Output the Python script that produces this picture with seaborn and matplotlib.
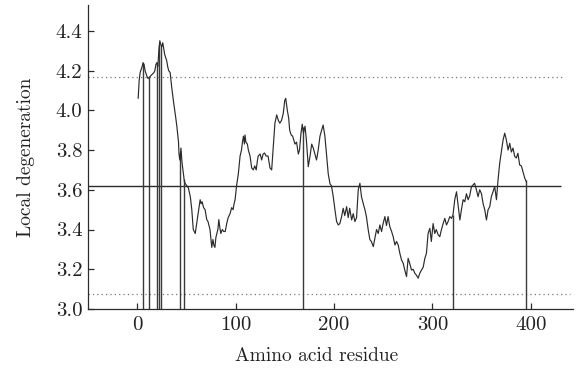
import numpy as np
import pandas as pd
import matplotlib
matplotlib.use("Agg")
import matplotlib.pyplot as plt
import seaborn as sns

# ---- data ----
residue = [1, 2, 3, 5, 6, 7, 8, 10, 11, 13, 15, 17, 18, 19, 20, 21, 22, 23, 24, 25,
           26, 27, 28, 30, 31, 32, 33.5, 35, 37, 39, 40.3, 42, 42.5, 43.3, 44.5, 45.5, 47, 48, 49, 50.5,
           52, 54, 55.5, 57, 59, 60.5, 62, 63, 64, 65, 66, 67.5, 69, 70.7, 72, 74, 75, 75.8, 77, 78,
           79, 80, 81, 82, 83, 84, 85, 86.5, 88, 89.5, 91, 92.5, 94.4, 96, 97.5, 98.5, 99.5, 101, 102.8, 104.6,
           106, 107, 108, 109, 109.6, 110.5, 112, 113, 114.7, 116.4, 118, 119.5, 121, 122, 123, 125, 126.5, 128, 129.5, 131,
           133, 135, 136.7, 138.4, 140, 141.8, 143.4, 145, 146.8, 148.5, 150, 151, 152.6, 154, 155, 156.5, 158, 160.4, 162, 163.8,
           165, 166.5, 167.8, 169, 170.6, 172, 173.9, 175.6, 177.4, 179, 180.7, 182.3, 184, 185.8, 187.5, 189, 190.8, 192.6, 194.2, 196,
           197.5, 199.3, 201, 202.7, 204.4, 206, 207.8, 209.4, 211, 212.9, 214.5, 216, 218, 219.6, 221.3, 223, 224.7, 226.4, 228, 229.8,
           231.5, 233, 234.8, 236.5, 238, 240, 241.6, 243.3, 245, 246.7, 248.4, 250, 251.8, 253.4, 255, 256.8, 258.6, 260.2, 262, 263.6,
           265.3, 267, 268.7, 270.4, 272, 273.8, 275.4, 277, 278.8, 280.5, 282.2, 283.9, 285.6, 287.3, 289, 290.7, 292.4, 294, 295.7, 297.5,
           299, 300.8, 302.5, 304, 306, 307.6, 309.3, 311, 312.7, 314.4, 316, 317.8, 319.5, 321, 322.8, 324.6, 326.2, 328, 329.6, 331.3,
           333, 334.7, 336.4, 338, 339.8, 341.4, 343, 344.8, 346.5, 348.2, 350, 351.6, 353.3, 355, 356.7, 358.4, 360, 361.7, 363.4, 365.2,
           366.8, 368.5, 370, 371.9, 373.6, 375.3, 377, 378.7, 380.4, 382, 383.8, 385.4, 387, 388.8, 390.5, 392.2, 394, 395.6]
degeneration = [4.06, 4.15, 4.19, 4.22, 4.24, 4.23, 4.20, 4.17, 4.16, 4.17, 4.18, 4.19, 4.20, 4.23, 4.24, 4.22, 4.30, 4.35, 4.33, 4.32,
                4.34, 4.31, 4.28, 4.25, 4.22, 4.20, 4.19, 4.12, 4.04, 3.97, 3.92, 3.84, 3.78, 3.75, 3.81, 3.74, 3.68, 3.64, 3.63, 3.62,
                3.61, 3.565, 3.50, 3.40, 3.38, 3.43, 3.48, 3.51, 3.55, 3.53, 3.54, 3.51, 3.50, 3.45, 3.44, 3.40, 3.35, 3.31, 3.35, 3.32,
                3.31, 3.36, 3.38, 3.40, 3.45, 3.41, 3.38, 3.40, 3.39, 3.39, 3.43, 3.46, 3.48, 3.51, 3.50, 3.53, 3.55, 3.62, 3.68, 3.77,
                3.80, 3.84, 3.87, 3.83, 3.876, 3.84, 3.83, 3.80, 3.77, 3.71, 3.70, 3.72, 3.70, 3.74, 3.77, 3.78, 3.75, 3.78, 3.785, 3.77,
                3.77, 3.71, 3.70, 3.82, 3.935, 3.977, 3.95, 3.935, 3.95, 3.985, 4.05, 4.06, 4.00, 3.96, 3.90, 3.876, 3.87, 3.83, 3.84, 3.78,
                3.80, 3.885, 3.93, 3.885, 3.92, 3.85, 3.716, 3.767, 3.83, 3.81, 3.78, 3.75, 3.80, 3.87, 3.90, 3.926, 3.87, 3.767, 3.68, 3.63,
                3.62, 3.565, 3.50, 3.44, 3.423, 3.43, 3.465, 3.507, 3.47, 3.515, 3.46, 3.507, 3.448, 3.48, 3.44, 3.46, 3.60, 3.633, 3.565, 3.53,
                3.50, 3.465, 3.40, 3.35, 3.34, 3.314, 3.356, 3.40, 3.38, 3.423, 3.39, 3.43, 3.465, 3.42, 3.465, 3.414, 3.39, 3.364, 3.322, 3.34,
                3.322, 3.28, 3.247, 3.23, 3.196, 3.163, 3.255, 3.23, 3.196, 3.20, 3.18, 3.17, 3.155, 3.18, 3.196, 3.21, 3.255, 3.28, 3.38, 3.406,
                3.34, 3.43, 3.38, 3.40, 3.373, 3.364, 3.40, 3.43, 3.456, 3.423, 3.44, 3.465, 3.456, 3.473, 3.55, 3.59, 3.524, 3.448, 3.50, 3.55,
                3.54, 3.58, 3.55, 3.57, 3.616, 3.624, 3.633, 3.60, 3.565, 3.60, 3.58, 3.53, 3.50, 3.448, 3.50, 3.515, 3.565, 3.59, 3.616, 3.55,
                3.65, 3.734, 3.784, 3.85, 3.885, 3.85, 3.80, 3.834, 3.79, 3.81, 3.767, 3.76, 3.784, 3.725, 3.72, 3.69, 3.658, 3.64]

mean_level = 3.62
upper_level = 4.167
lower_level = 3.075
marked_residues = [6.4, 12.2, 20, 22.6, 24, 44, 47.7, 168.2, 321, 395]

x_ticks = [0, 100, 200, 300, 400]
y_ticks = [3.0, 3.2, 3.4, 3.6, 3.8, 4.0, 4.2, 4.4]

df = pd.DataFrame({"residue": residue, "degeneration": degeneration})

# ---- style ----
sns.set_theme(style="ticks")
plt.rcParams["font.family"] = ["cmr10", "DejaVu Serif"]
plt.rcParams["axes.formatter.use_mathtext"] = True
plt.rcParams["axes.unicode_minus"] = False

fig = plt.figure(figsize=(5.82, 3.68), dpi=100)
ax = fig.add_axes([88 / 582, 1 - 309 / 368, (573 - 88) / 582, (309 - 5) / 368])

ink = "#2b2b2b"

# reference lines
ax.hlines(mean_level, -50, 431, color=ink, lw=1.0, zorder=2)
ax.hlines(upper_level, -50, 433, color="#777777", lw=0.9, linestyles=[(0, (1, 2.5))], zorder=1)
ax.hlines(lower_level, -50, 440, color="#777777", lw=0.9, linestyles=[(0, (1, 2.5))], zorder=1)

# marked residues: vertical lines from the baseline up to the profile
tops = np.interp(marked_residues, residue, degeneration)
ax.vlines(marked_residues, 3.0, tops, color="#3a3a3a", lw=1.0, zorder=2)

sns.lineplot(data=df, x="residue", y="degeneration", ax=ax, color=ink,
             lw=0.85, estimator=None, sort=True, zorder=3)

ax.set_xlim(-50, 443)
ax.set_ylim(3.0, 4.53)
ax.set_xticks(x_ticks)
ax.set_xticklabels([str(t) for t in x_ticks])
ax.set_yticks(y_ticks)
ax.set_yticklabels([f"{t:.1f}" for t in y_ticks])

for s in ["top", "right"]:
    ax.spines[s].set_visible(False)
for s in ["left", "bottom"]:
    ax.spines[s].set_color(ink)
    ax.spines[s].set_linewidth(0.9)

ax.tick_params(axis="both", direction="in", length=4.5, width=0.9, color=ink,
               labelsize=15, labelcolor="#222222")
ax.tick_params(axis="x", pad=5)
ax.tick_params(axis="y", pad=4)

ax.set_xlabel("Amino acid residue", fontsize=14, color="#222222", labelpad=7)
ax.xaxis.set_label_coords(0.471, -0.125)
ax.set_ylabel("Local degeneration", fontsize=14, color="#222222", labelpad=15)

fig.savefig("out.png", dpi=100)
